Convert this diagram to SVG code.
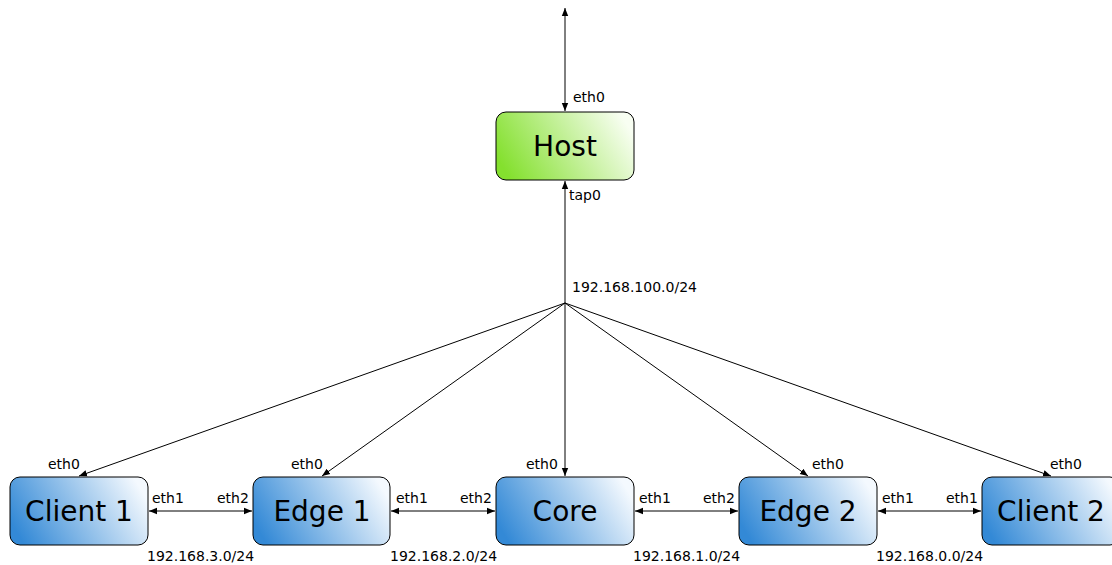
<svg xmlns="http://www.w3.org/2000/svg" width="1112" height="565" viewBox="0 0 1112 565">
<style>
.box{stroke:#000;stroke-width:1}
.blue{fill:url(#gb)}
.green{fill:url(#gg)}
.lbl{font-family:"DejaVu Sans",sans-serif;font-size:28px;fill:#000;text-anchor:middle}
.sm{font-family:"DejaVu Sans",sans-serif;font-size:14px;fill:#000}
.ln{stroke:#000;stroke-width:1;fill:none}
</style>
<defs>
<linearGradient id="gb" x1="0" y1="0.65" x2="1" y2="0.35">
<stop offset="0" stop-color="#3389d6"/>
<stop offset="1" stop-color="#f4f9fe"/>
</linearGradient>
<linearGradient id="gg" x1="0" y1="0.65" x2="1" y2="0.35">
<stop offset="0" stop-color="#84e02e"/>
<stop offset="1" stop-color="#f8fef2"/>
</linearGradient>
<marker id="ah" viewBox="0 0 10 10" refX="10" refY="5" markerWidth="8" markerHeight="8" markerUnits="userSpaceOnUse" orient="auto-start-reverse">
<path d="M0,1 L10,5 L0,9 Z" fill="#000"/>
</marker>
</defs>
<g id="connectors">
<line class="ln" x1="565" y1="8" x2="565" y2="111" marker-start="url(#ah)" marker-end="url(#ah)"/>
<line class="ln" x1="565" y1="303" x2="565" y2="181" marker-end="url(#ah)"/>
<line class="ln" x1="565" y1="303" x2="79" y2="476" marker-end="url(#ah)"/>
<line class="ln" x1="565" y1="303" x2="322" y2="476" marker-end="url(#ah)"/>
<line class="ln" x1="565" y1="303" x2="565" y2="476" marker-end="url(#ah)"/>
<line class="ln" x1="565" y1="303" x2="808" y2="476" marker-end="url(#ah)"/>
<line class="ln" x1="565" y1="303" x2="1051" y2="476" marker-end="url(#ah)"/>
<line class="ln" x1="149" y1="511" x2="252" y2="511" marker-start="url(#ah)" marker-end="url(#ah)"/>
<line class="ln" x1="391" y1="511" x2="495" y2="511" marker-start="url(#ah)" marker-end="url(#ah)"/>
<line class="ln" x1="635" y1="511" x2="738" y2="511" marker-start="url(#ah)" marker-end="url(#ah)"/>
<line class="ln" x1="878" y1="511" x2="981" y2="511" marker-start="url(#ah)" marker-end="url(#ah)"/>
<text class="sm" x="573" y="102">eth0</text>
<text class="sm" x="569" y="200">tap0</text>
<text class="sm" x="572" y="292">192.168.100.0/24</text>
<text class="sm" x="48" y="469">eth0</text>
<text class="sm" x="291" y="469">eth0</text>
<text class="sm" x="526" y="469">eth0</text>
<text class="sm" x="812" y="469">eth0</text>
<text class="sm" x="1050" y="469">eth0</text>
<text class="sm" x="152" y="503">eth1</text>
<text class="sm" x="217" y="503">eth2</text>
<text class="sm" x="396" y="503">eth1</text>
<text class="sm" x="460" y="503">eth2</text>
<text class="sm" x="639" y="503">eth1</text>
<text class="sm" x="703" y="503">eth2</text>
<text class="sm" x="882" y="503">eth1</text>
<text class="sm" x="946" y="503">eth1</text>
<text class="sm" x="147" y="561">192.168.3.0/24</text>
<text class="sm" x="390" y="561">192.168.2.0/24</text>
<text class="sm" x="633" y="561">192.168.1.0/24</text>
<text class="sm" x="876" y="561">192.168.0.0/24</text>
</g>
<g id="host"><rect class="box green" x="496" y="112" width="138" height="68" rx="10"/><text class="lbl" x="565" y="156">Host</text></g>
<g id="client1"><rect class="box blue" x="10" y="477" width="138" height="68" rx="10"/><text class="lbl" x="79" y="521">Client 1</text></g>
<g id="edge1"><rect class="box blue" x="253" y="477" width="137" height="68" rx="10"/><text class="lbl" x="322" y="521">Edge 1</text></g>
<g id="core"><rect class="box blue" x="496" y="477" width="138" height="68" rx="10"/><text class="lbl" x="565" y="521">Core</text></g>
<g id="edge2"><rect class="box blue" x="739" y="477" width="138" height="68" rx="10"/><text class="lbl" x="808" y="521">Edge 2</text></g>
<g id="client2"><rect class="box blue" x="982" y="477" width="138" height="68" rx="10"/><text class="lbl" x="1051" y="521">Client 2</text></g>
</svg>
